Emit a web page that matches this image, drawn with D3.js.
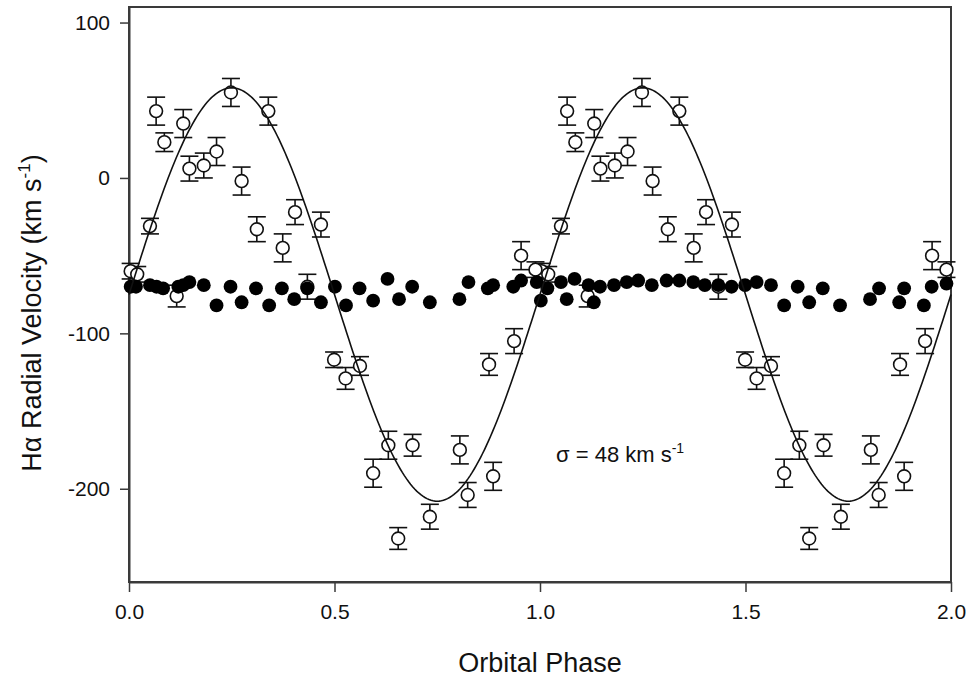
<!DOCTYPE html>
<html>
<head>
<meta charset="utf-8">
<script src="https://cdn.jsdelivr.net/npm/d3@7.9.0/dist/d3.min.js"></script>
<style>
  body { margin: 0; background: #fff; }
  svg { display: block; font-family: "Liberation Sans", Arial, sans-serif; }
</style>
</head>
<body>
<svg id="chart" width="971" height="679"></svg>
<script>
// open circles (H-alpha emission), phase folded on 0..1, plotted twice
const openPhase = [0.004, 0.020, 0.051, 0.066, 0.086, 0.116, 0.132, 0.147, 0.182, 0.213,
  0.248, 0.274, 0.311, 0.339, 0.374, 0.404, 0.434, 0.467, 0.499, 0.527,
  0.562, 0.594, 0.631, 0.655, 0.690, 0.732, 0.805, 0.824, 0.876, 0.886,
  0.937, 0.954, 0.989];
const openVel = [-60, -62, -31, 43, 23, -76, 35, 6, 8, 17,
  55, -2, -33, 43, -45, -22, -70, -30, -117, -129,
  -121, -190, -172, -232, -172, -218, -175, -204, -120, -192,
  -105, -50, -59];
const openErr = [5, 5, 5, 9, 6, 7, 9, 8, 8, 9,
  9, 9, 8, 9, 9, 8, 8, 8, 5, 7,
  6, 9, 9, 7, 7, 8, 9, 8, 7, 9,
  8, 9, 5];

// filled circles, over the full 0..2 range
const filledPhase = [0.004, 0.017, 0.051, 0.067, 0.083, 0.120, 0.132, 0.147, 0.182, 0.213,
  0.247, 0.274, 0.309, 0.341, 0.372, 0.402, 0.434, 0.467, 0.501, 0.528,
  0.561, 0.594, 0.629, 0.657, 0.689, 0.732, 0.804, 0.826, 0.873, 0.886,
  0.935, 0.954, 0.992, 1.002, 1.018, 1.051, 1.065, 1.084, 1.118, 1.131,
  1.146, 1.180, 1.211, 1.239, 1.272, 1.308, 1.339, 1.373, 1.401, 1.434,
  1.466, 1.499, 1.527, 1.562, 1.594, 1.627, 1.655, 1.688, 1.730, 1.803,
  1.825, 1.874, 1.886, 1.934, 1.953, 1.989];
const filledVel = [-70, -70, -69, -70, -71, -70, -69, -67, -69, -82,
  -70, -80, -71, -82, -71, -78, -71, -80, -70, -82,
  -71, -79, -65, -78, -70, -80, -78, -67, -71, -69,
  -70, -66, -67, -79, -71, -67, -78, -65, -69, -80,
  -70, -69, -67, -66, -69, -66, -66, -67, -69, -69,
  -70, -69, -67, -69, -82, -70, -80, -71, -82, -78,
  -71, -80, -71, -82, -70, -68];

// sine fit: gamma + K sin(2 pi phase)
const fitGamma = -75;
const fitK = 133;

const xTicks = [0, 0.5, 1.0, 1.5, 2.0];
const yTicks = [100, 0, -100, -200];

const svg = d3.select('#chart');
const plotLeft = 129, plotRight = 951, plotTop = 7, plotBottom = 582;

const x = d3.scaleLinear().domain([0, 2]).range([plotLeft, plotRight]);
const y = d3.scaleLinear().domain([-260, 110]).range([plotBottom, plotTop]);

// frame
svg.append('rect')
    .attr('x', plotLeft).attr('y', plotTop)
    .attr('width', plotRight - plotLeft).attr('height', plotBottom - plotTop)
    .attr('fill', 'none').attr('stroke', '#3a3a3a').attr('stroke-width', 2);

// axes (plain hyphen minus, as in the original)
const xAxis = svg.append('g')
    .attr('transform', `translate(0,${plotBottom})`)
    .call(d3.axisBottom(x).tickValues(xTicks).tickFormat((d) => d.toFixed(1))
        .tickSize(10).tickSizeOuter(0).tickPadding(12));
const yAxis = svg.append('g')
    .attr('transform', `translate(${plotLeft},0)`)
    .call(d3.axisLeft(y).tickValues(yTicks).tickFormat((d) => String(d))
        .tickSize(9).tickSizeOuter(0).tickPadding(10));

[xAxis, yAxis].forEach((g) => {
    g.select('.domain').attr('stroke', '#3a3a3a').attr('stroke-width', 2);
    g.selectAll('.tick line').attr('stroke', '#3a3a3a').attr('stroke-width', 1.5);
    g.selectAll('.tick text')
        .attr('fill', '#111')
        .style('font-size', '21px')
        .style('font-family', '"Liberation Sans", Arial, sans-serif');
});

// open circles with error bars (two cycles)
const openData = [];
openPhase.forEach((p, i) => {
    [0, 1].forEach((c) => openData.push({ phase: p + c, v: openVel[i], e: openErr[i] }));
});

const bars = svg.append('g').attr('stroke', '#111').attr('stroke-width', 1.6);
openData.forEach((d) => {
    const cx = x(d.phase);
    bars.append('line')
        .attr('x1', cx).attr('x2', cx)
        .attr('y1', y(d.v + d.e)).attr('y2', y(d.v - d.e));
    [d.v + d.e, d.v - d.e].forEach((yy) => {
        bars.append('line')
            .attr('x1', cx - 9).attr('x2', cx + 9)
            .attr('y1', y(yy)).attr('y2', y(yy));
    });
});

svg.append('g').selectAll('circle')
    .data(openData)
    .join('circle')
    .attr('cx', (d) => x(d.phase))
    .attr('cy', (d) => y(d.v))
    .attr('r', 6.4)
    .attr('fill', '#fff')
    .attr('stroke', '#111')
    .attr('stroke-width', 1.6);

// filled circles
svg.append('g').selectAll('circle')
    .data(filledPhase.map((p, i) => ({ phase: p, v: filledVel[i] })))
    .join('circle')
    .attr('cx', (d) => x(d.phase))
    .attr('cy', (d) => y(d.v))
    .attr('r', 6.9)
    .attr('fill', '#000');

// fitted curve
const curvePhases = d3.range(0, 2.0001, 0.005);
svg.append('path')
    .datum(curvePhases)
    .attr('fill', 'none')
    .attr('stroke', '#111')
    .attr('stroke-width', 1.6)
    .attr('d', d3.line()
        .x((p) => x(p))
        .y((p) => y(fitGamma + fitK * Math.sin(2 * Math.PI * p))));

// labels
svg.append('text')
    .attr('x', (plotLeft + plotRight) / 2)
    .attr('y', 672)
    .attr('text-anchor', 'middle')
    .attr('fill', '#111')
    .style('font-size', '27px')
    .text('Orbital Phase');

const yTitle = svg.append('text')
    .attr('transform', 'translate(41,313) rotate(-90)')
    .attr('text-anchor', 'middle')
    .attr('fill', '#111')
    .style('font-size', '27px');
yTitle.append('tspan').text('H\u03b1 Radial Velocity (km s');
yTitle.append('tspan').attr('dy', -11).style('font-size', '17px').text('-1');
yTitle.append('tspan').attr('dy', 11).text(')');

const note = svg.append('text')
    .attr('x', 556)
    .attr('y', 462)
    .attr('fill', '#111')
    .style('font-size', '22px');
note.append('tspan').text('\u03c3 = 48 km s');
note.append('tspan').attr('dy', -9).style('font-size', '14px').text('-1');
</script>
</body>
</html>
